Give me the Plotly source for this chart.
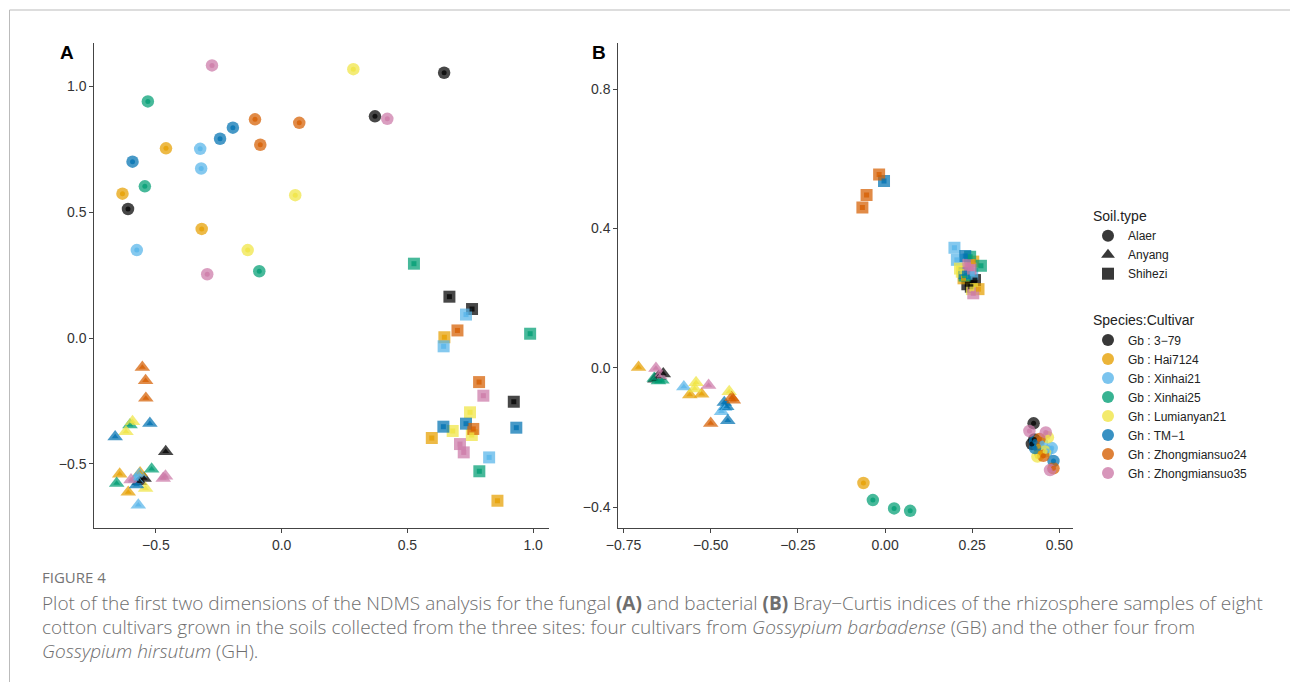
import plotly.graph_objects as go

# ---------------- data ----------------
cultivars = ["Gb : 3−79", "Gb : Hai7124", "Gb : Xinhai21", "Gb : Xinhai25",
             "Gh : Lumianyan21", "Gh : TM−1", "Gh : Zhongmiansuo24", "Gh : Zhongmiansuo35"]
soil_types = ["Alaer", "Anyang", "Shihezi"]
palette = ["#000000", "#E69F00", "#56B4E9", "#009E73",
           "#F0E442", "#0072B2", "#D55E00", "#CC79A7"]

# cultivar index of each sample (3 replicates per cultivar within each soil)
sample_cultivar = [0, 0, 0, 1, 1, 1, 2, 2, 2, 3, 3, 3,
                   4, 4, 4, 5, 5, 5, 6, 6, 6, 7, 7, 7]

# Panel A (fungal)
A_alaer_x = [0.646, 0.371, -0.611, -0.460, -0.633, -0.318, -0.324, -0.320, -0.576,
             -0.532, -0.544, -0.089, 0.285, 0.054, -0.135, -0.194, -0.245, -0.593,
             -0.106, 0.070, -0.085, -0.277, 0.420, -0.296]
A_alaer_y = [1.053, 0.880, 0.512, 0.753, 0.573, 0.433, 0.751, 0.673, 0.349,
             0.939, 0.602, 0.265, 1.067, 0.567, 0.349, 0.835, 0.791, 0.700,
             0.868, 0.854, 0.767, 1.082, 0.870, 0.253]
A_anyang_x = [-0.461, -0.547, -0.566, -0.644, -0.610, -0.563, -0.566, -0.570, -0.580,
              -0.603, -0.656, -0.517, -0.593, -0.619, -0.541, -0.662, -0.524, -0.577,
              -0.554, -0.541, -0.540, -0.599, -0.471, -0.462]
A_anyang_y = [-0.451, -0.557, -0.570, -0.540, -0.612, -0.535, -0.540, -0.663, -0.560,
              -0.345, -0.577, -0.520, -0.332, -0.372, -0.597, -0.392, -0.339, -0.583,
              -0.116, -0.169, -0.239, -0.563, -0.557, -0.548]
A_shihezi_x = [0.667, 0.757, 0.923, 0.647, 0.597, 0.858, 0.733, 0.644, 0.825,
               0.526, 0.988, 0.786, 0.749, 0.680, 0.756, 0.643, 0.733, 0.933,
               0.699, 0.785, 0.762, 0.802, 0.709, 0.724]
A_shihezi_y = [0.164, 0.115, -0.253, 0.003, -0.397, -0.646, 0.093, -0.033, -0.474,
               0.295, 0.017, -0.529, -0.295, -0.369, -0.385, -0.352, -0.340, -0.356,
               0.030, -0.175, -0.361, -0.229, -0.421, -0.454]

# Panel B (bacterial)
B_alaer_x = [0.426, 0.421, 0.428, -0.062, 0.440, 0.445, 0.478, 0.450, 0.465,
             -0.035, 0.026, 0.072, 0.467, 0.437, 0.459, 0.430, 0.430, 0.483,
             0.443, 0.454, 0.483, 0.414, 0.461, 0.473]
B_alaer_y = [-0.159, -0.218, -0.205, -0.330, -0.225, -0.245, -0.230, -0.215, -0.238,
             -0.379, -0.403, -0.410, -0.199, -0.254, -0.240, -0.211, -0.230, -0.267,
             -0.204, -0.252, -0.288, -0.181, -0.185, -0.293]
B_anyang_x = [-0.636, -0.660, -0.650, -0.707, -0.560, -0.526, -0.577, -0.469, -0.460,
              -0.650, -0.640, -0.662, -0.542, -0.546, -0.447, -0.461, -0.454, -0.451,
              -0.435, -0.500, -0.440, -0.657, -0.646, -0.506]
B_anyang_y = [-0.017, -0.032, -0.025, 0.002, -0.077, -0.075, -0.054, -0.125, -0.113,
              -0.037, -0.035, -0.030, -0.042, -0.060, -0.068, -0.099, -0.111, -0.151,
              -0.092, -0.159, -0.085, -0.001, -0.023, -0.050]
B_shihezi_x = [0.258, 0.246, 0.236, 0.253, 0.225, 0.268, 0.199, 0.206, 0.250,
               0.244, 0.275, 0.228, 0.220, 0.249, 0.215, -0.003, 0.230, 0.228,
               -0.017, -0.053, -0.065, 0.239, 0.253, 0.245]
B_shihezi_y = [0.252, 0.233, 0.240, 0.305, 0.257, 0.226, 0.345, 0.310, 0.270,
               0.319, 0.293, 0.265, 0.276, 0.226, 0.285, 0.536, 0.321, 0.272,
               0.555, 0.496, 0.460, 0.295, 0.214, 0.285]

A_ticks_x = [-0.5, 0.0, 0.5, 1.0]
A_ticks_y = [-0.5, 0.0, 0.5, 1.0]
B_ticks_x = [-0.75, -0.50, -0.25, 0.00, 0.25, 0.50]
B_ticks_y = [-0.4, 0.0, 0.4, 0.8]

caption_title = "FIGURE 4"
caption_lines = [
    "Plot of the first two dimensions of the NDMS analysis for the fungal <b>(A)</b> and bacterial "
    "<b>(B)</b> Bray−Curtis indices of the rhizosphere samples of eight",
    "cotton cultivars grown in the soils collected from the three sites: four cultivars from "
    "<i>Gossypium barbadense</i> (GB) and the other four from",
    "<i>Gossypium hirsutum</i> (GH).",
]

# ---------------- figure ----------------
W, H = 1290, 682
symbols = {"Alaer": "circle", "Anyang": "triangle-up", "Shihezi": "square"}
big_size = {"Alaer": 12.5, "Anyang": 13.6, "Shihezi": 12}
small_size = {"Alaer": 5, "Anyang": 6, "Shihezi": 5}

panels = {
    "A": ("x", "y", {"Alaer": (A_alaer_x, A_alaer_y), "Anyang": (A_anyang_x, A_anyang_y),
                     "Shihezi": (A_shihezi_x, A_shihezi_y)}),
    "B": ("x2", "y2", {"Alaer": (B_alaer_x, B_alaer_y), "Anyang": (B_anyang_x, B_anyang_y),
                       "Shihezi": (B_shihezi_x, B_shihezi_y)}),
}

fig = go.Figure()
point_colors = [palette[i] for i in sample_cultivar]
for key, (xa, ya, groups) in panels.items():
    for soil in soil_types:
        xs, ys = groups[soil]
        fig.add_trace(go.Scatter(
            x=xs, y=ys, xaxis=xa, yaxis=ya, mode="markers", showlegend=False,
            hoverinfo="skip",
            marker=dict(symbol=symbols[soil], size=big_size[soil], color=point_colors,
                        opacity=0.72, line=dict(width=0))))
        fig.add_trace(go.Scatter(
            x=xs, y=ys, xaxis=xa, yaxis=ya, mode="markers", showlegend=False,
            hoverinfo="skip",
            marker=dict(symbol=symbols[soil], size=small_size[soil], color=point_colors,
                        opacity=0.75, line=dict(width=0))))

# legend entries
for i, soil in enumerate(soil_types):
    fig.add_trace(go.Scatter(
        x=[None], y=[None], mode="markers", name=soil, legendgroup="soil",
        legendgrouptitle=dict(text="Soil.type", font=dict(size=14, color="#222")) if i == 0 else None,
        marker=dict(symbol=symbols[soil], size=12, color="rgba(0,0,0,0.78)", line=dict(width=0))))
for i, cv in enumerate(cultivars):
    fig.add_trace(go.Scatter(
        x=[None], y=[None], mode="markers", name=cv, legendgroup="cultivar",
        legendgrouptitle=dict(text="Species:Cultivar", font=dict(size=14, color="#222")) if i == 0 else None,
        marker=dict(symbol="circle", size=12, color=palette[i], opacity=0.78, line=dict(width=0))))

axis_common = dict(showgrid=False, zeroline=False, showline=True, linecolor="#444",
                   linewidth=1, ticks="outside", ticklen=4, tickcolor="#444",
                   automargin=False,
                   tickfont=dict(family="Liberation Sans, Arial", size=14, color="#333"))

def px_x(p):
    return p / W

def px_y(p):
    return 1 - p / H

fig.update_layout(
    width=W, height=H, margin=dict(l=0, r=0, t=0, b=0, autoexpand=False),
    paper_bgcolor="white", plot_bgcolor="white",
    showlegend=True,
    xaxis=dict(domain=[px_x(94.3), px_x(549)], range=[-0.745, 1.063],
               tickvals=A_ticks_x, tickformat=".1f", anchor="y", **axis_common),
    yaxis=dict(domain=[px_y(527.7), px_y(43)], range=[-0.753, 1.171],
               tickvals=A_ticks_y, tickformat=".1f", anchor="x", **axis_common),
    xaxis2=dict(domain=[px_x(618.3), px_x(1073)], range=[-0.765, 0.539],
                tickvals=B_ticks_x, tickformat=".2f", anchor="y2", **axis_common),
    yaxis2=dict(domain=[px_y(528.3), px_y(43)], range=[-0.46, 0.932],
                tickvals=B_ticks_y, tickformat=".1f", anchor="x2", **axis_common),
    legend=dict(x=px_x(1088), y=px_y(200), xanchor="left", yanchor="top",
                font=dict(family="Liberation Sans, Arial", size=12, color="#222"),
                tracegroupgap=26, traceorder="grouped", itemsizing="constant",
                bgcolor="rgba(0,0,0,0)"),
    font=dict(family="Liberation Sans, Arial"),
)

annotations = [
    dict(text="<b>A</b>", x=px_x(58), y=px_y(52), xanchor="left", yanchor="middle",
         font=dict(size=19, color="black", family="Liberation Sans, Arial")),
    dict(text="<b>B</b>", x=px_x(590), y=px_y(52), xanchor="left", yanchor="middle",
         font=dict(size=19, color="black", family="Liberation Sans, Arial")),
    dict(text=caption_title, x=px_x(40), y=px_y(577), xanchor="left", yanchor="middle",
         font=dict(size=15, color="#747474", family="Open Sans")),
]
for j, line in enumerate(caption_lines):
    annotations.append(dict(text=line, x=px_x(40), y=px_y(603 + 24 * j), xanchor="left",
                            yanchor="middle",
                            font=dict(size=19, color="#6e6e6e", family="Open Sans", weight=300)))
for a in annotations:
    a.update(xref="paper", yref="paper", showarrow=False)
fig.update_layout(annotations=annotations)

fig.update_layout(shapes=[
    dict(type="line", xref="paper", yref="paper", x0=px_x(9.5), x1=1, y0=px_y(10), y1=px_y(10),
         line=dict(color="#bbbbbb", width=1)),
    dict(type="line", xref="paper", yref="paper", x0=px_x(9.5), x1=px_x(9.5), y0=0, y1=px_y(10),
         line=dict(color="#bbbbbb", width=1)),
])

fig.write_html("out.html", config={"displayModeBar": False},
               post_script="document.body.style.margin='0';document.body.style.overflow='hidden';")
